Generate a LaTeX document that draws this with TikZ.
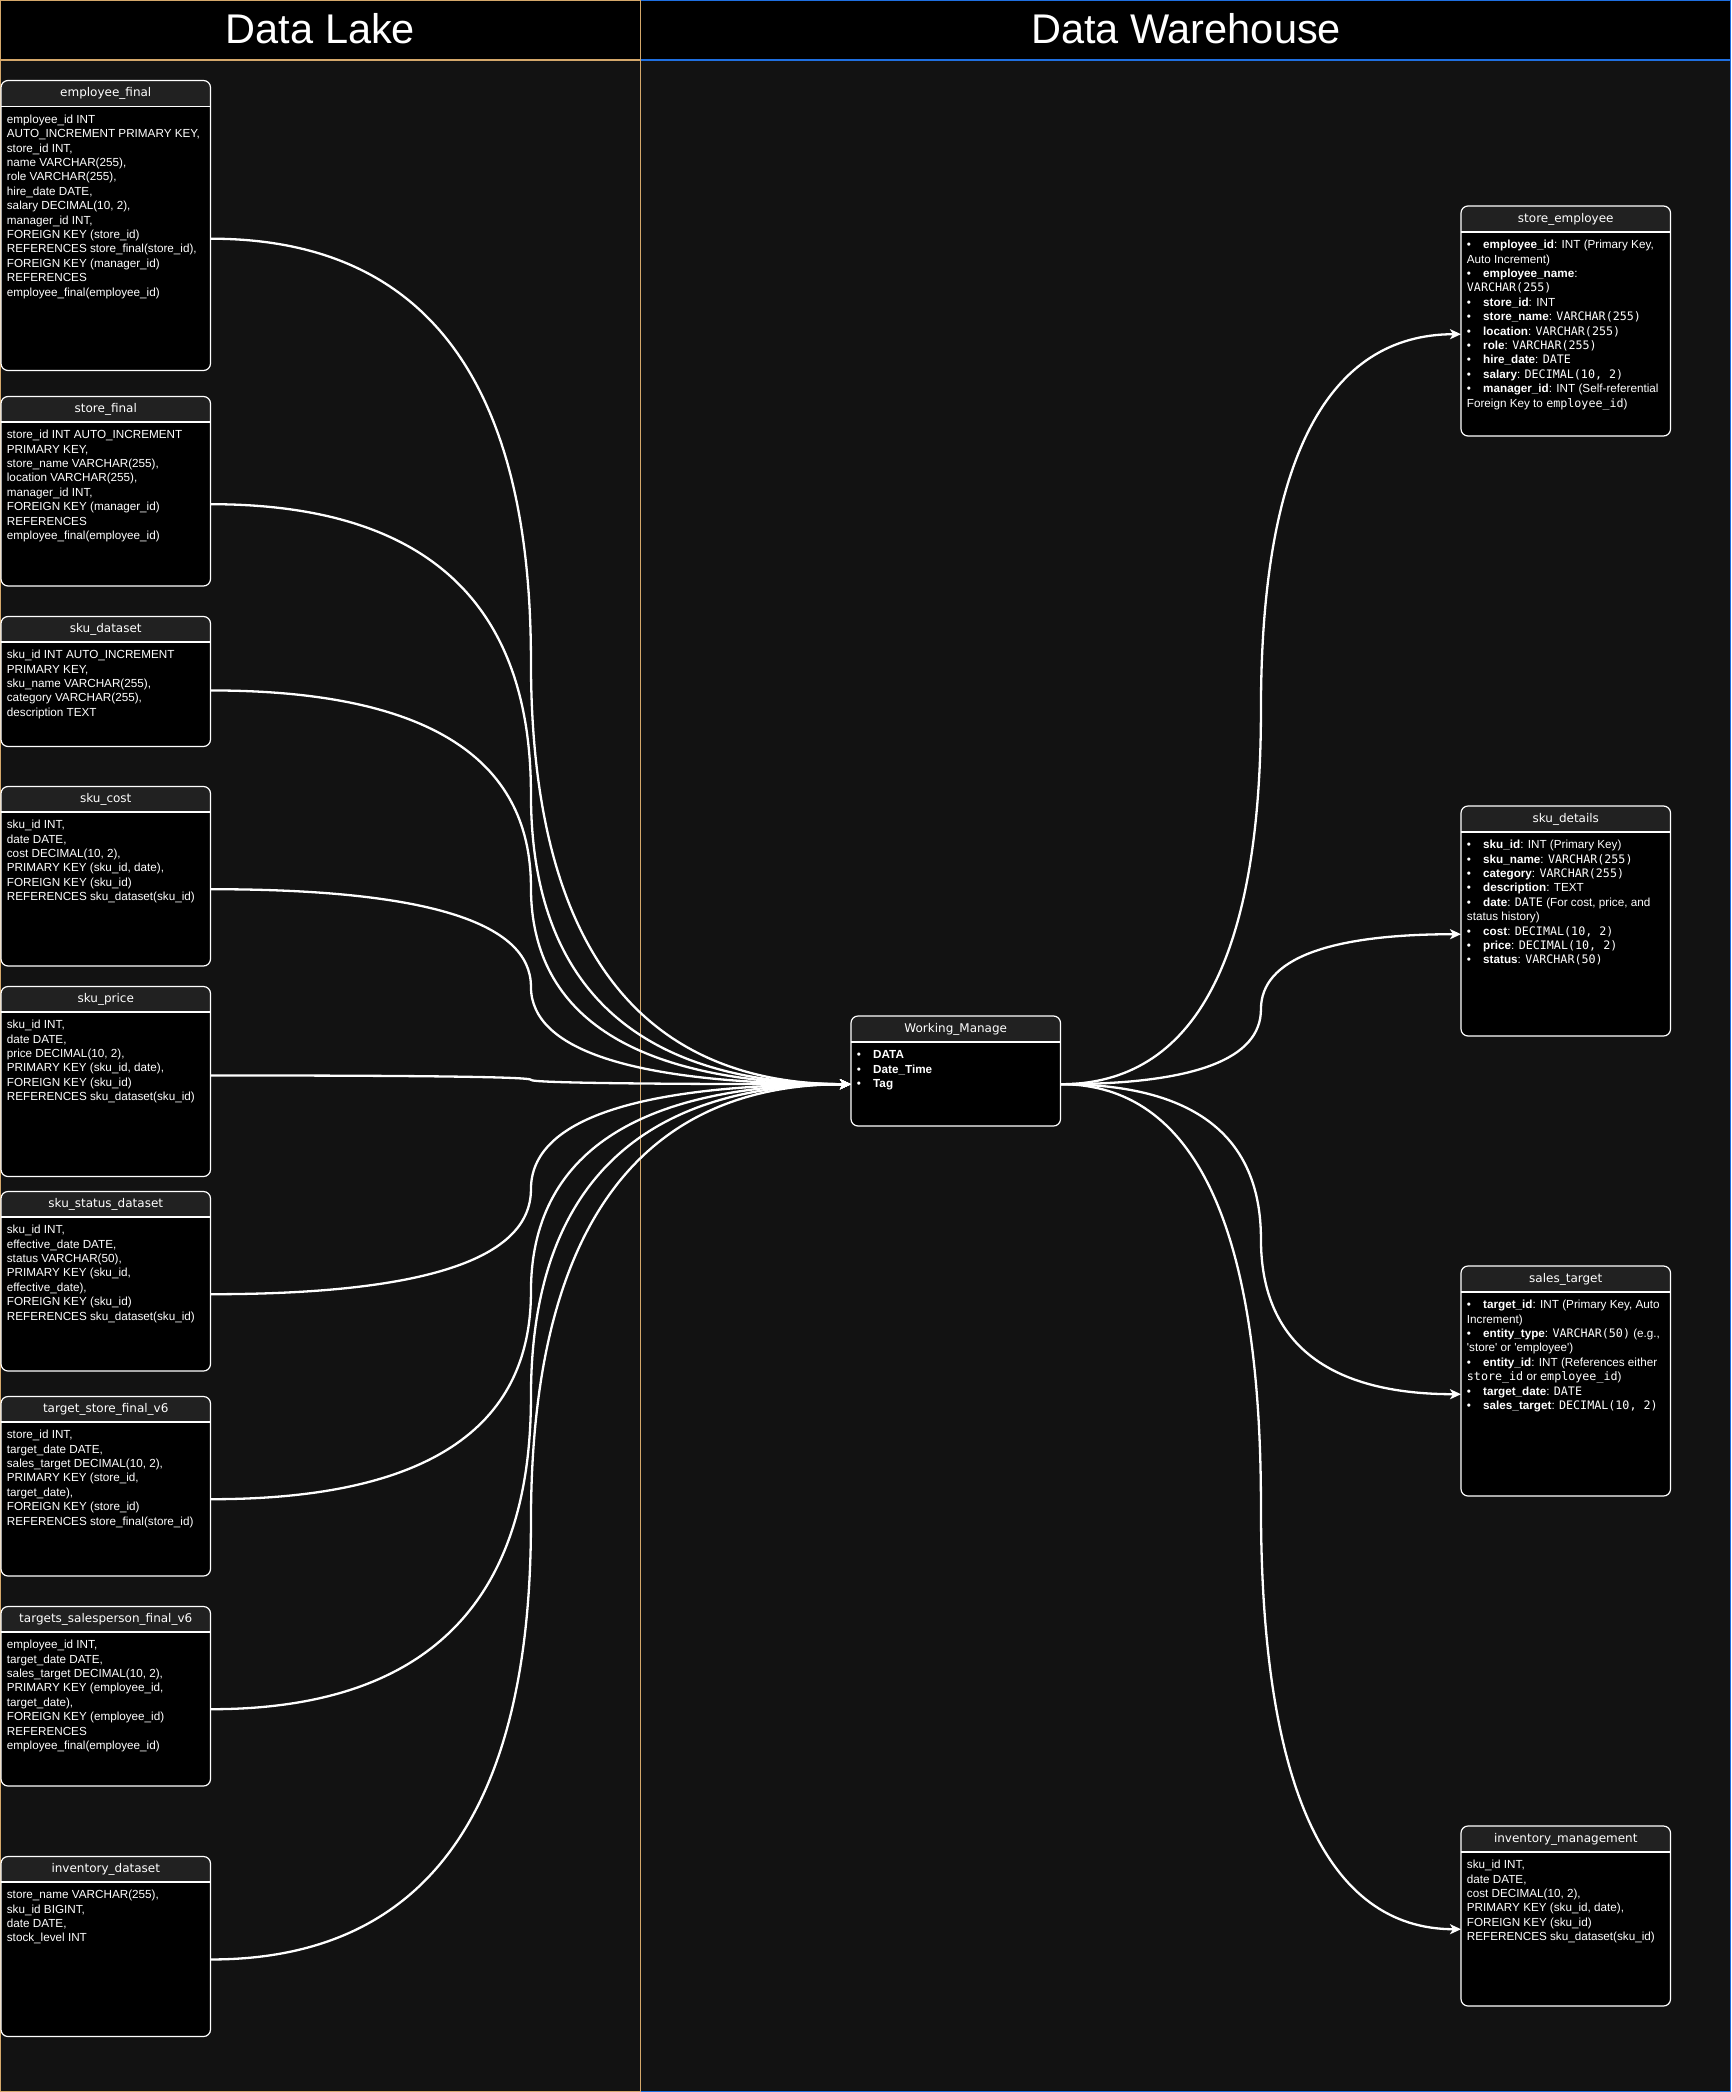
\documentclass[tikz,border=0pt]{standalone}
\usepackage{fontspec}
\usetikzlibrary{arrows.meta,calc}
\newfontfamily\lsans{Liberation Sans}
\newfontfamily\dvs{DejaVu Sans}
\newfontfamily\dvm{DejaVu Sans Mono}
\newcommand\mn[1]{{\dvm #1}}
\newcommand\bl{\makebox[16.3pt][l]{\textbullet}}
\definecolor{bgc}{HTML}{121212}
\definecolor{hdrgray}{HTML}{212121}
\definecolor{lakeline}{HTML}{D4A76A}
\definecolor{whline}{HTML}{1F6FE0}
\tikzset{
 boxline/.style={draw=white, line width=1.2pt},
 titletxt/.style={text=white, inner sep=0, anchor=base, font=\dvs\fontsize{12}{14}\selectfont},
 bodytxt/.style={text=white, inner sep=0, align=left, anchor=north west, font=\lsans\fontsize{11.7}{14.4}\selectfont},
 lanetitle/.style={text=white, inner sep=0, anchor=base, font=\lsans\fontsize{41.5}{48}\selectfont},
 conn/.style={draw=white, line width=2.3pt, -{Stealth[length=11pt,width=10pt,inset=3pt]}},
}
% name, x-left, top, header-bottom, bottom, title
\newcommand\dbt[6]{%
 \pgfmathsetmacro\xr{#2+209.5}%
 \begin{scope}
  \clip[rounded corners=7pt] (#2,#3) rectangle (\xr,#5);
  \fill[black] (#2,#3) rectangle (\xr,#5);
  \fill[hdrgray] (#2,#3) rectangle (\xr,#4);
 \end{scope}
 \draw[boxline] (#2,#4) -- (\xr,#4);
 \draw[boxline, rounded corners=7pt] (#2,#3) rectangle (\xr,#5);
 \node[inner sep=0, minimum width=209.5pt, minimum height={(#4-#3)*1pt}, anchor=north west] (#1-h) at (#2,#3) {};
 \node[inner sep=0, minimum width=209.5pt, minimum height={(#5-#4)*1pt}, anchor=north west] (#1) at (#2,#4) {};
 \node[titletxt] (#1-title) at ({#2+104.75},{#3+16.3}) {#6};
}
% name, x-left, header-bottom, content
\newcommand\dbtext[4]{%
 \node[bodytxt] (#1-txt) at ({#2+5.7},{#3+6.5}) {\rule{0pt}{10pt}#4};
}
\newcommand\dlconn[2]{%
 \coordinate (cM) at ($(#1)!0.5!(#2)$);
 \coordinate (cQa) at (cM |- #1);
 \coordinate (cQb) at (cM |- #2);
 \draw[conn] (#1) .. controls ($(#1)!0.6667!(cQa)$) and ($(cM)!0.6667!(cQa)$) .. (cM)
   .. controls ($(cM)!0.6667!(cQb)$) and ($(#2)!0.6667!(cQb)$) .. (#2);
}
\begin{document}
\begin{tikzpicture}[x=1pt,y=-1pt]
\useasboundingbox (0,0) rectangle (1731,2092);
\fill[bgc] (0,0) rectangle (1731,2092);
\fill[black] (0,0) rectangle (1731,60);
\draw[whline, line width=1.3pt] (640.5,0.65) rectangle (1730.35,2091.35);
\draw[whline, line width=1.3pt] (640.5,60) -- (1730.35,60);
\draw[lakeline, line width=1.3pt] (0.65,0.65) rectangle (640.5,2091.35);
\draw[lakeline, line width=1.3pt] (0.65,60) -- (640.5,60);
\node[lanetitle] (laketitle) at (320.5,44) {Data Lake};
\node[lanetitle] (whtitle) at (1186,44) {Data Warehouse};

% ---------- Data Lake tables ----------
\dbt{ef}{1}{80.5}{106.5}{370.5}{employee\_final}
\dbtext{ef}{1}{106.5}{employee\_id INT\\AUTO\_INCREMENT PRIMARY KEY,\\store\_id INT,\\name VARCHAR(255),\\role VARCHAR(255),\\hire\_date DATE,\\salary DECIMAL(10, 2),\\manager\_id INT,\\FOREIGN KEY (store\_id)\\REFERENCES store\_final(store\_id),\\FOREIGN KEY (manager\_id)\\REFERENCES\\employee\_final(employee\_id)}

\dbt{sf}{1}{396.5}{422}{586}{store\_final}
\dbtext{sf}{1}{422}{store\_id INT AUTO\_INCREMENT\\PRIMARY KEY,\\store\_name VARCHAR(255),\\location VARCHAR(255),\\manager\_id INT,\\FOREIGN KEY (manager\_id)\\REFERENCES\\employee\_final(employee\_id)}

\dbt{sd}{1}{616.5}{642}{746.5}{sku\_dataset}
\dbtext{sd}{1}{642}{sku\_id INT AUTO\_INCREMENT\\PRIMARY KEY,\\sku\_name VARCHAR(255),\\category VARCHAR(255),\\description TEXT}

\dbt{sc}{1}{786.5}{812}{966}{sku\_cost}
\dbtext{sc}{1}{812}{sku\_id INT,\\date DATE,\\cost DECIMAL(10, 2),\\PRIMARY KEY (sku\_id, date),\\FOREIGN KEY (sku\_id)\\REFERENCES sku\_dataset(sku\_id)}

\dbt{sp}{1}{986.5}{1012}{1176.5}{sku\_price}
\dbtext{sp}{1}{1012}{sku\_id INT,\\date DATE,\\price DECIMAL(10, 2),\\PRIMARY KEY (sku\_id, date),\\FOREIGN KEY (sku\_id)\\REFERENCES sku\_dataset(sku\_id)}

\dbt{ss}{1}{1191.5}{1217}{1371}{sku\_status\_dataset}
\dbtext{ss}{1}{1217}{sku\_id INT,\\effective\_date DATE,\\status VARCHAR(50),\\PRIMARY KEY (sku\_id,\\effective\_date),\\FOREIGN KEY (sku\_id)\\REFERENCES sku\_dataset(sku\_id)}

\dbt{ts}{1}{1396.5}{1422}{1576}{target\_store\_final\_v6}
\dbtext{ts}{1}{1422}{store\_id INT,\\target\_date DATE,\\sales\_target DECIMAL(10, 2),\\PRIMARY KEY (store\_id,\\target\_date),\\FOREIGN KEY (store\_id)\\REFERENCES store\_final(store\_id)}

\dbt{tsp}{1}{1606.5}{1632}{1786}{targets\_salesperson\_final\_v6}
\dbtext{tsp}{1}{1632}{employee\_id INT,\\target\_date DATE,\\sales\_target DECIMAL(10, 2),\\PRIMARY KEY (employee\_id,\\target\_date),\\FOREIGN KEY (employee\_id)\\REFERENCES\\employee\_final(employee\_id)}

\dbt{inv}{1}{1856.5}{1882}{2036.5}{inventory\_dataset}
\dbtext{inv}{1}{1882}{store\_name VARCHAR(255),\\sku\_id BIGINT,\\date DATE,\\stock\_level INT}

% ---------- Working_Manage ----------
\dbt{wm}{851}{1016}{1042}{1126}{Working\_Manage}
\dbtext{wm}{851}{1042}{\bl\textbf{DATA}\\\bl\textbf{Date\_Time}\\\bl\textbf{Tag}}

% ---------- Data Warehouse tables ----------
\dbt{se}{1461}{206}{232}{436}{store\_employee}
\dbtext{se}{1461}{232}{\bl\textbf{employee\_id}: INT (Primary Key,\\Auto Increment)\\\bl\textbf{employee\_name}:\\\mn{VARCHAR(255)}\\\bl\textbf{store\_id}: INT\\\bl\textbf{store\_name}: \mn{VARCHAR(255)}\\\bl\textbf{location}: \mn{VARCHAR(255)}\\\bl\textbf{role}: \mn{VARCHAR(255)}\\\bl\textbf{hire\_date}: \mn{DATE}\\\bl\textbf{salary}: \mn{DECIMAL(10, 2)}\\\bl\textbf{manager\_id}: INT (Self-referential\\Foreign Key to \mn{employee\_id})}

\dbt{skd}{1461}{806}{832}{1036}{sku\_details}
\dbtext{skd}{1461}{832}{\bl\textbf{sku\_id}: INT (Primary Key)\\\bl\textbf{sku\_name}: \mn{VARCHAR(255)}\\\bl\textbf{category}: \mn{VARCHAR(255)}\\\bl\textbf{description}: TEXT\\\bl\textbf{date}: \mn{DATE} (For cost, price, and\\status history)\\\bl\textbf{cost}: \mn{DECIMAL(10, 2)}\\\bl\textbf{price}: \mn{DECIMAL(10, 2)}\\\bl\textbf{status}: \mn{VARCHAR(50)}}

\dbt{st}{1461}{1266}{1292}{1496}{sales\_target}
\dbtext{st}{1461}{1292}{\bl\textbf{target\_id}: INT (Primary Key, Auto\\Increment)\\\bl\textbf{entity\_type}: \mn{VARCHAR(50)} (e.g.,\\'store' or 'employee')\\\bl\textbf{entity\_id}: INT (References either\\\mn{store\_id} or \mn{employee\_id})\\\bl\textbf{target\_date}: \mn{DATE}\\\bl\textbf{sales\_target}: \mn{DECIMAL(10, 2)}}

\dbt{im}{1461}{1826}{1852}{2006}{inventory\_management}
\dbtext{im}{1461}{1852}{sku\_id INT,\\date DATE,\\cost DECIMAL(10, 2),\\PRIMARY KEY (sku\_id, date),\\FOREIGN KEY (sku\_id)\\REFERENCES sku\_dataset(sku\_id)}

% ---------- connectors ----------
\coordinate (sd-out) at ($(sd.east)+(0,-4)$);
\coordinate (sp-out) at ($(sp.east)+(0,-19)$);
\dlconn{ef.east}{wm.west}
\dlconn{sf.east}{wm.west}
\dlconn{sd-out}{wm.west}
\dlconn{sc.east}{wm.west}
\dlconn{sp-out}{wm.west}
\dlconn{ss.east}{wm.west}
\dlconn{ts.east}{wm.west}
\dlconn{tsp.east}{wm.west}
\dlconn{inv.east}{wm.west}
\dlconn{wm.east}{se.west}
\dlconn{wm.east}{skd.west}
\dlconn{wm.east}{st.west}
\dlconn{wm.east}{im.west}
\end{tikzpicture}
\end{document}
